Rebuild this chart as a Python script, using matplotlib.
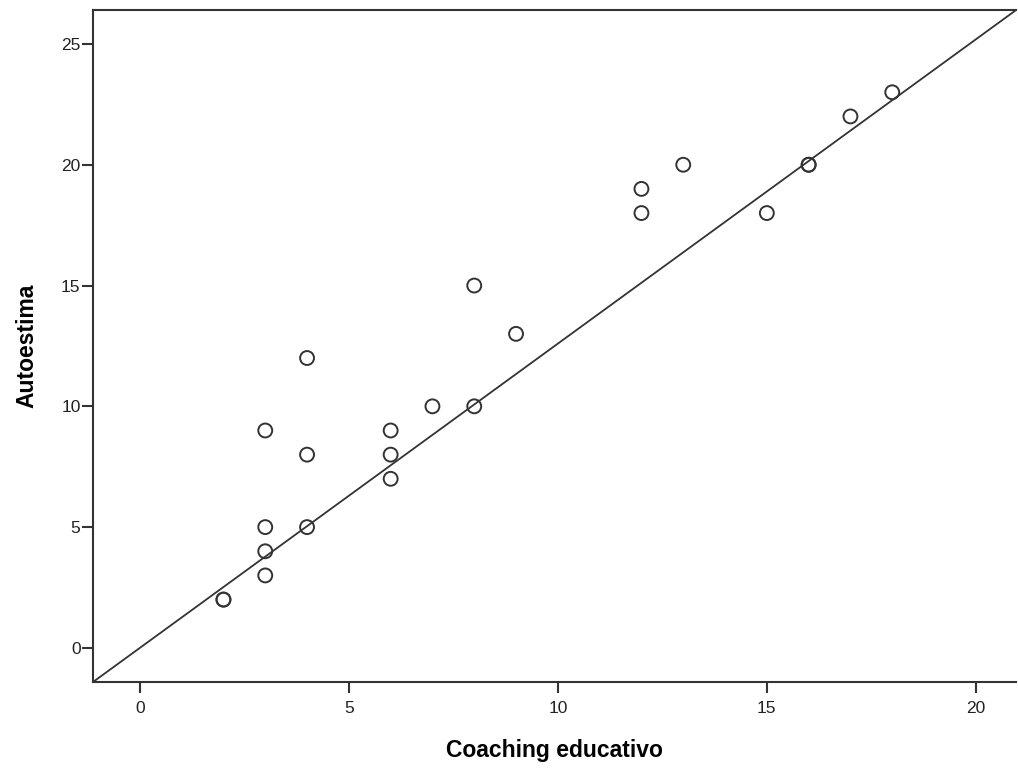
import matplotlib

matplotlib.use("Agg")
import matplotlib.pyplot as plt

plt.rcParams["font.family"] = ["Liberation Sans", "DejaVu Sans"]

# Coaching educativo (x) vs Autoestima (y); (2,2) and (16,20) appear twice
coaching = [2, 2, 3, 3, 3, 3, 4, 4, 4, 6, 6, 6, 7, 8, 8, 9, 12, 12, 13, 15, 16, 16, 17, 18]
autoestima = [2, 2, 3, 4, 5, 9, 5, 8, 12, 7, 8, 9, 10, 10, 15, 13, 18, 19, 20, 18, 20, 20, 22, 23]
x_ticks = [0, 5, 10, 15, 20]
y_ticks = [0, 5, 10, 15, 20, 25]
x_lim = (-1.12, 20.96)
y_lim = (-1.41, 26.4)

fig = plt.figure(figsize=(10.18, 7.74), dpi=100)
ax = fig.add_axes([0.0914, 0.1189, 0.9066, 0.868])

# reference line corner to corner
ax.plot(x_lim, y_lim, color="#333333", lw=1.3, zorder=1)
ax.scatter(coaching, autoestima, s=100, facecolors="none", edgecolors="#333333",
           linewidths=1.4, zorder=2)

ax.set_xlim(*x_lim)
ax.set_ylim(*y_lim)
ax.set_xticks(x_ticks)
ax.set_yticks(y_ticks)
ax.tick_params(direction="out", length=8, width=1.5, color="#333333",
               labelsize=12.5, labelcolor="#222222")
ax.tick_params(axis="x", pad=6)
ax.tick_params(axis="y", pad=1)
for side in ["left", "bottom", "top"]:
    ax.spines[side].set_color("#333333")
    ax.spines[side].set_linewidth(1.5)
ax.spines["right"].set_visible(False)

ax.set_xlabel("Coaching educativo", fontsize=16.5, fontweight="bold", labelpad=16)
ax.set_ylabel("Autoestima", fontsize=16.5, fontweight="bold", labelpad=16)

fig.savefig("out.png", dpi=100)
